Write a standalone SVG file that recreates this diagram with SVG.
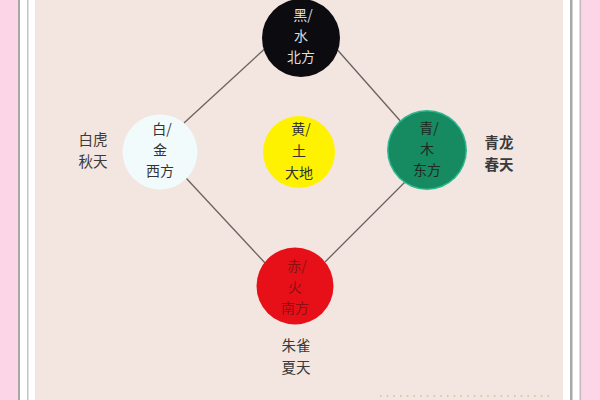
<svg xmlns="http://www.w3.org/2000/svg" width="600" height="400" viewBox="0 0 600 400">
<style>
text{font-family:"Noto Sans CJK SC","Noto Sans",sans-serif;font-size:14px;text-anchor:middle;dominant-baseline:central}
.dark{fill:#333}
.lab{fill:#3a3a3a;font-size:14.5px}
.conn line{stroke:#6a625e;stroke-width:1.3}
</style>
<rect width="600" height="400" fill="#f3e5df"/>
<rect x="0" y="0" width="18" height="400" fill="#fcd6e6"/>
<rect x="18" y="0" width="17" height="400" fill="#ffffff"/>
<rect x="18" y="0" width="2" height="400" fill="#a8a8a8"/>
<rect x="27" y="0" width="1.5" height="400" fill="#c4c4c4"/>
<rect x="563" y="0" width="19" height="400" fill="#ffffff"/>
<rect x="570" y="0" width="2.5" height="400" fill="#a8a8a8"/>
<rect x="579.5" y="0" width="2" height="400" fill="#c8b8c0"/>
<rect x="582" y="0" width="18" height="400" fill="#fcd6e6"/>
<line x1="380" y1="396" x2="550" y2="396" stroke="#c8bfa0" stroke-width="1.5" stroke-dasharray="1.5 5.2"/>
<g class="conn" id="connectors">
<line x1="270" y1="44" x2="184" y2="123"/>
<line x1="334" y1="46" x2="403" y2="124"/>
<line x1="186" y1="178" x2="266" y2="264"/>
<line x1="405" y1="182" x2="325" y2="262"/>
</g>
<g id="north">
<circle cx="301" cy="38" r="39" fill="#0b0b10"/>
<text x="303" y="14" fill="#dcdcdc">黑/</text>
<text x="301" y="35" fill="#dcdcdc">水</text>
<text x="301" y="56" fill="#dcdcdc">北方</text>
</g>
<g id="west">
<circle cx="160" cy="152" r="37.5" fill="#f2fbfb"/>
<text x="162" y="128" class="dark">白/</text>
<text x="160" y="149" class="dark">金</text>
<text x="160" y="170" class="dark">西方</text>
<text x="93" y="138" class="lab">白虎</text>
<text x="93" y="160" class="lab">秋天</text>
</g>
<g id="center">
<circle cx="299" cy="152" r="36" fill="#fff200"/>
<text x="301" y="128" class="dark">黄/</text>
<text x="299" y="150" class="dark">土</text>
<text x="299" y="172" class="dark">大地</text>
</g>
<g id="east">
<circle cx="427" cy="150" r="40" fill="#2fb890"/>
<circle cx="427" cy="150" r="38.5" fill="#168a60"/>
<text x="429" y="127" fill="#1e2a22">青/</text>
<text x="427" y="148" fill="#1e2a22">木</text>
<text x="427" y="169" fill="#1e2a22">东方</text>
<text x="499" y="141" class="lab" font-weight="bold">青龙</text>
<text x="499" y="163" class="lab" font-weight="bold">春天</text>
</g>
<g id="south">
<circle cx="295" cy="286" r="38.5" fill="#e81018"/>
<text x="297" y="265" fill="#8c1010">赤/</text>
<text x="295" y="286" fill="#8c1010">火</text>
<text x="295" y="307" fill="#8c1010">南方</text>
<text x="296" y="344" class="lab">朱雀</text>
<text x="296" y="366" class="lab">夏天</text>
</g>
</svg>
